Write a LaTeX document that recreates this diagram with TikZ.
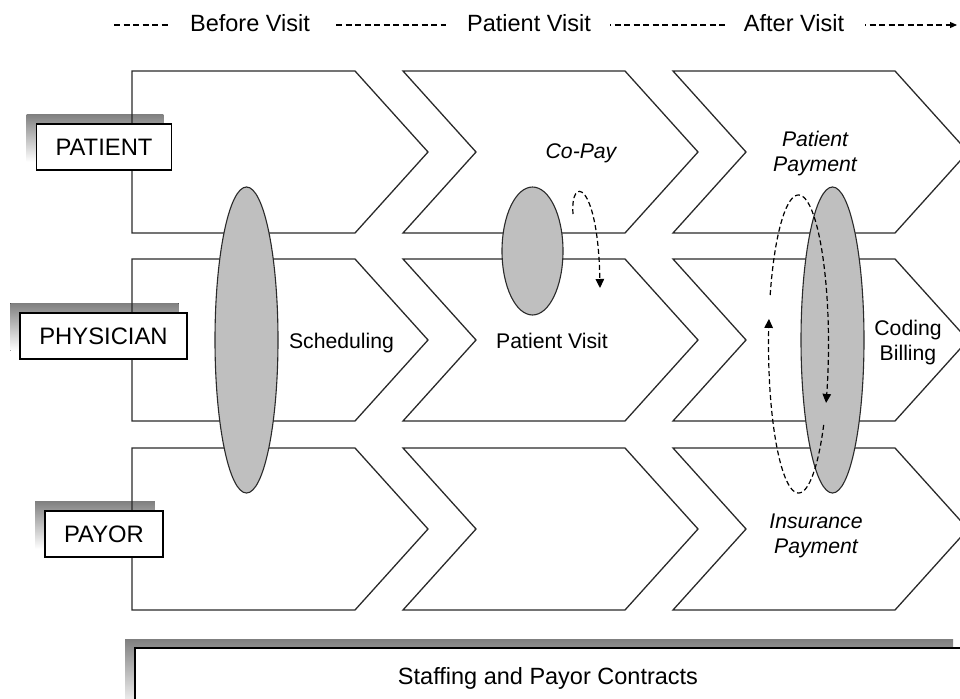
\documentclass[tikz,border=0pt]{standalone}
\usepackage{fontspec}
\setmainfont{Liberation Sans}
\usetikzlibrary{shapes.geometric,arrows.meta}
\definecolor{ink}{HTML}{2A2A2A}
\definecolor{shade}{HTML}{8C8C8C}
\definecolor{blobfill}{HTML}{BFBFBF}
\pgfdeclarelayer{back}
\pgfdeclarelayer{front}
\pgfsetlayers{back,main,front}
\begin{document}
\begin{tikzpicture}[x=1pt,y=-1pt,
  lane/.style={draw=ink, line width=1.3pt, line join=miter},
  rolebox/.style={draw=black, line width=1.8pt, fill=white, inner xsep=19pt,
    inner ysep=0pt, minimum height=46pt, font=\fontsize{23.8}{28}\selectfont},
  blob/.style={ellipse, draw=ink, line width=1.1pt, fill=blobfill, inner sep=0pt},
  lbl/.style={font=\fontsize{21.2}{25}\selectfont, align=center, inner sep=0pt},
  ilbl/.style={font=\fontsize{21.2}{25}\selectfont\itshape, align=center, inner sep=0pt},
  phaselbl/.style={font=\fontsize{23.5}{27}\selectfont, inner sep=0pt},
  flow/.style={draw=black, line width=1.2pt, dash pattern=on 5pt off 3pt,
    -{Triangle[length=9pt,width=8.5pt]}},
  timeline/.style={draw=black, line width=1.1pt, dash pattern=on 6pt off 3.5pt},
]
\useasboundingbox (0,0) rectangle (960,698);
\clip (0,0) rectangle (960,698);

% phase timeline across the top
\node[phaselbl, anchor=base] (before) at (250,32) {Before Visit};
\node[phaselbl, anchor=base] (during) at (529,32) {Patient Visit};
\node[phaselbl, anchor=base] (after)  at (794,32) {After Visit};
\coordinate (t0) at (114,25);  \coordinate (t1) at (170,25);
\coordinate (t2) at (336,25);  \coordinate (t3) at (446,25);
\coordinate (t4) at (610,25);  \coordinate (t5) at (725,25);
\coordinate (t6) at (865,25);  \coordinate (t7) at (957,25);
\draw[timeline] (t0) -- (t1);
\draw[timeline] (t2) -- (t3);
\draw[timeline, dash phase=5pt] (t4) -- (t5);
\draw[timeline, dash phase=5pt, -{Triangle[length=7pt,width=6pt]}] (t6) -- (t7);

% three swim lanes, each made of three chevrons
\foreach \t in {71,259,448} {
  \pgfmathsetmacro\b{\t+162}
  \pgfmathsetmacro\m{\t+81}
  \draw[lane] (132,\t) -- (355,\t) -- (428,\m) -- (355,\b) -- (132,\b) -- cycle;
  \draw[lane] (403,\t) -- (625,\t) -- (698,\m) -- (625,\b) -- (403,\b) -- (476,\m) -- cycle;
  \draw[lane] (673,\t) -- (895,\t) -- (968,\m) -- (895,\b) -- (673,\b) -- (746,\m) -- cycle;
}

% role labels with offset shadows
\begin{pgfonlayer}{front}
  \node[rolebox] (patient)   at (104,147) {PATIENT};
  \node[rolebox] (physician) at (103.5,336) {PHYSICIAN};
  \node[rolebox] (payor)     at (104,534) {PAYOR};
\end{pgfonlayer}
\begin{pgfonlayer}{back}
  \foreach \r in {patient,physician,payor}
    \fill[shade] ([shift={(-9,-9)}]\r.south west) rectangle ([shift={(-9,-9)}]\r.north east);
  \fill[shade] (125,639) rectangle (953,710);
\end{pgfonlayer}

% interaction ellipses
\node[blob, minimum width=63pt, minimum height=306pt] (schedblob) at (246.5,340) {};
\node[blob, minimum width=61pt, minimum height=128pt] (copayblob) at (532.5,251) {};
\node[blob, minimum width=63pt, minimum height=306pt] (billblob)  at (832.5,340) {};

% activity labels
\node[lbl, anchor=base] (scheduling) at (341.5,348) {Scheduling};
\node[lbl, anchor=base] (visit)      at (552,348) {Patient Visit};
\node[ilbl, anchor=base] (copay)     at (581,158) {Co-Pay};
\node[ilbl] (ptpay)   at (815,154) {Patient\\Payment};
\node[lbl]  (coding)  at (908,343) {Coding\\Billing};
\node[ilbl] (inspay)  at (816,536) {Insurance\\Payment};

% payment flows
\coordinate (copayfrom) at (573,214);
\coordinate (copayto)   at (600,288);
\draw[flow] (copayfrom) .. controls (570,175) and (598,180) .. (copayto);
\draw[flow] plot[domain=199.2:383.3, samples=80] ({798.5+30*cos(\x)},{344+149*sin(\x)});
\draw[flow] plot[domain=32.9:189.7, samples=80] ({798.5+30*cos(\x)},{344+149*sin(\x)});

% shared foundation bar
\draw[black, line width=1.7pt, fill=white] (135,648) rectangle (975,715);
\node[phaselbl, anchor=base] (contracts) at (548,684) {Staffing and Payor Contracts};
\end{tikzpicture}
\end{document}
